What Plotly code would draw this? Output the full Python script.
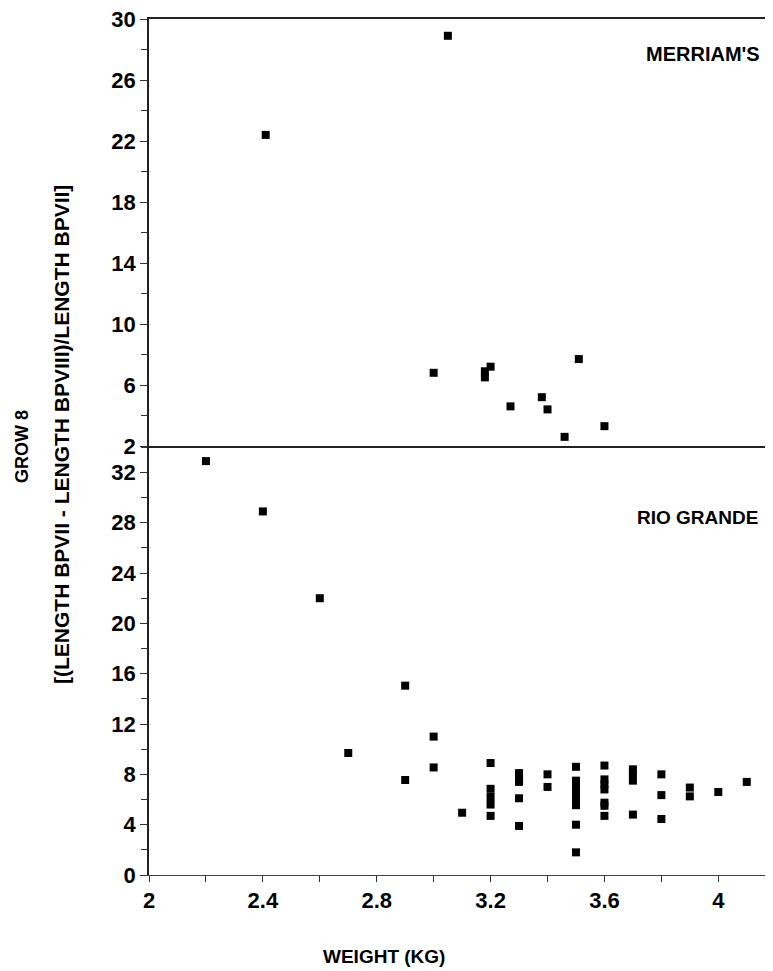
import plotly.graph_objects as go

# Merriam's turkeys (upper panel)
merriam_weight = [2.41, 3.05, 3.00, 3.18, 3.18, 3.20, 3.27, 3.38, 3.40, 3.46, 3.51, 3.60]
merriam_grow8 = [22.4, 28.9, 6.8, 6.9, 6.5, 7.2, 4.6, 5.2, 4.4, 2.6, 7.7, 3.3]

# Rio Grande turkeys (lower panel)
rio_weight = [2.2, 2.4, 2.6, 2.7, 2.9, 2.9, 3.0, 3.0, 3.1,
              3.2, 3.2, 3.2, 3.2, 3.2,
              3.3, 3.3, 3.3, 3.3, 3.3,
              3.4, 3.4,
              3.5, 3.5, 3.5, 3.5, 3.5, 3.5, 3.5, 3.5, 3.5,
              3.6, 3.6, 3.6, 3.6, 3.6, 3.6, 3.6,
              3.7, 3.7, 3.7, 3.7,
              3.8, 3.8, 3.8,
              3.9, 3.9,
              4.0, 4.1]
rio_grow8 = [32.9, 28.9, 22.0, 9.7, 15.05, 7.55, 11.0, 8.55, 4.95,
             8.9, 6.85, 6.2, 5.6, 4.7,
             8.1, 7.7, 7.4, 6.1, 3.9,
             8.0, 7.0,
             8.6, 7.5, 7.1, 6.7, 6.3, 5.9, 5.55, 4.0, 1.8,
             8.7, 7.6, 7.2, 6.8, 5.75, 5.5, 4.7,
             8.4, 8.0, 7.5, 4.8,
             8.0, 6.35, 4.45,
             6.95, 6.25,
             6.6, 7.4]

x_tickvals = [2.0, 2.2, 2.4, 2.6, 2.8, 3.0, 3.2, 3.4, 3.6, 3.8, 4.0]
x_ticktext = ["2", "", "2.4", "", "2.8", "", "3.2", "", "3.6", "", "4"]

FONT = "Liberation Sans"
OFF = 8  # default page body margin
W, H = 773 - OFF, 971 - OFF
L, R, T, B = 149 - OFF, 0, 19 - OFF, 96
PLOT_W = W - L - R
PLOT_H = H - T - B
split = (875 - 446) / (875 - 19)

def px(xp):
    return (xp - OFF - L) / PLOT_W

def py(yp):
    return (875 - yp) / PLOT_H

fig = go.Figure()
marker = dict(symbol="square", size=8, color="black")
fig.add_trace(go.Scatter(x=rio_weight, y=rio_grow8, mode="markers", marker=marker,
                         xaxis="x", yaxis="y", showlegend=False))
fig.add_trace(go.Scatter(x=merriam_weight, y=merriam_grow8, mode="markers", marker=marker,
                         xaxis="x2", yaxis="y2", showlegend=False))

tickfont = dict(family=FONT, size=22, color="black", weight="bold")
xr = [2.0, 2.0 + PLOT_W / 284.65]

fig.update_layout(
    width=W, height=H,
    margin=dict(l=L, r=R, t=T, b=B),
    paper_bgcolor="white", plot_bgcolor="white",
    xaxis=dict(range=xr, anchor="y", tickvals=x_tickvals, ticktext=x_ticktext,
               ticks="outside", ticklen=6, tickcolor="#333", tickwidth=1,
               showline=True, linecolor="#444", linewidth=1,
               showgrid=False, zeroline=False, tickfont=tickfont,
               ticklabeloverflow="allow"),
    xaxis2=dict(range=xr, anchor="y2", matches="x", showticklabels=False, ticks="",
                showline=True, mirror=True, linecolor="#222", linewidth=1.5,
                showgrid=False, zeroline=False),
    yaxis=dict(domain=[0, split], range=[0, 34.1], tick0=0, dtick=4,
               ticks="outside", ticklen=7, tickcolor="#333", tickwidth=1,
               minor=dict(dtick=2, tick0=0, ticks="outside", ticklen=6, tickcolor="#333", showgrid=False),
               showline=True, linecolor="#222", linewidth=1.5,
               showgrid=False, zeroline=False, tickfont=tickfont,
               ticklabeloverflow="allow"),
    yaxis2=dict(domain=[split, 1], range=[2, 30], tick0=2, dtick=4,
                ticks="outside", ticklen=7, tickcolor="#333", tickwidth=1,
                minor=dict(dtick=2, tick0=0, ticks="outside", ticklen=6, tickcolor="#333", showgrid=False),
                showline=True, linecolor="#222", linewidth=1.5,
                showgrid=False, zeroline=False, tickfont=tickfont,
                ticklabeloverflow="allow"),
)

def lab(size):
    return dict(family=FONT, size=size, color="black", weight="bold")

fig.add_annotation(text="MERRIAM'S", xref="paper", yref="paper", x=px(762), y=py(53.5),
                   xanchor="right", yanchor="middle", showarrow=False, font=lab(20))
fig.add_annotation(text="RIO GRANDE", xref="paper", yref="paper", x=px(760), y=py(518),
                   xanchor="right", yanchor="middle", showarrow=False, font=lab(19))
fig.add_annotation(text="WEIGHT (KG)", xref="paper", yref="paper", x=px(384), y=py(957),
                   xanchor="center", yanchor="middle", showarrow=False, font=lab(19))
fig.add_annotation(text="GROW 8", xref="paper", yref="paper", x=px(22), y=py(447),
                   xanchor="center", yanchor="middle", showarrow=False, textangle=-90, font=lab(18))
fig.add_annotation(text="[(LENGTH BPVII - LENGTH BPVIII)/LENGTH BPVII]", xref="paper", yref="paper",
                   x=px(61), y=py(435), xanchor="center", yanchor="middle", showarrow=False,
                   textangle=-90, font=lab(21))

fig.write_html("out.html")
